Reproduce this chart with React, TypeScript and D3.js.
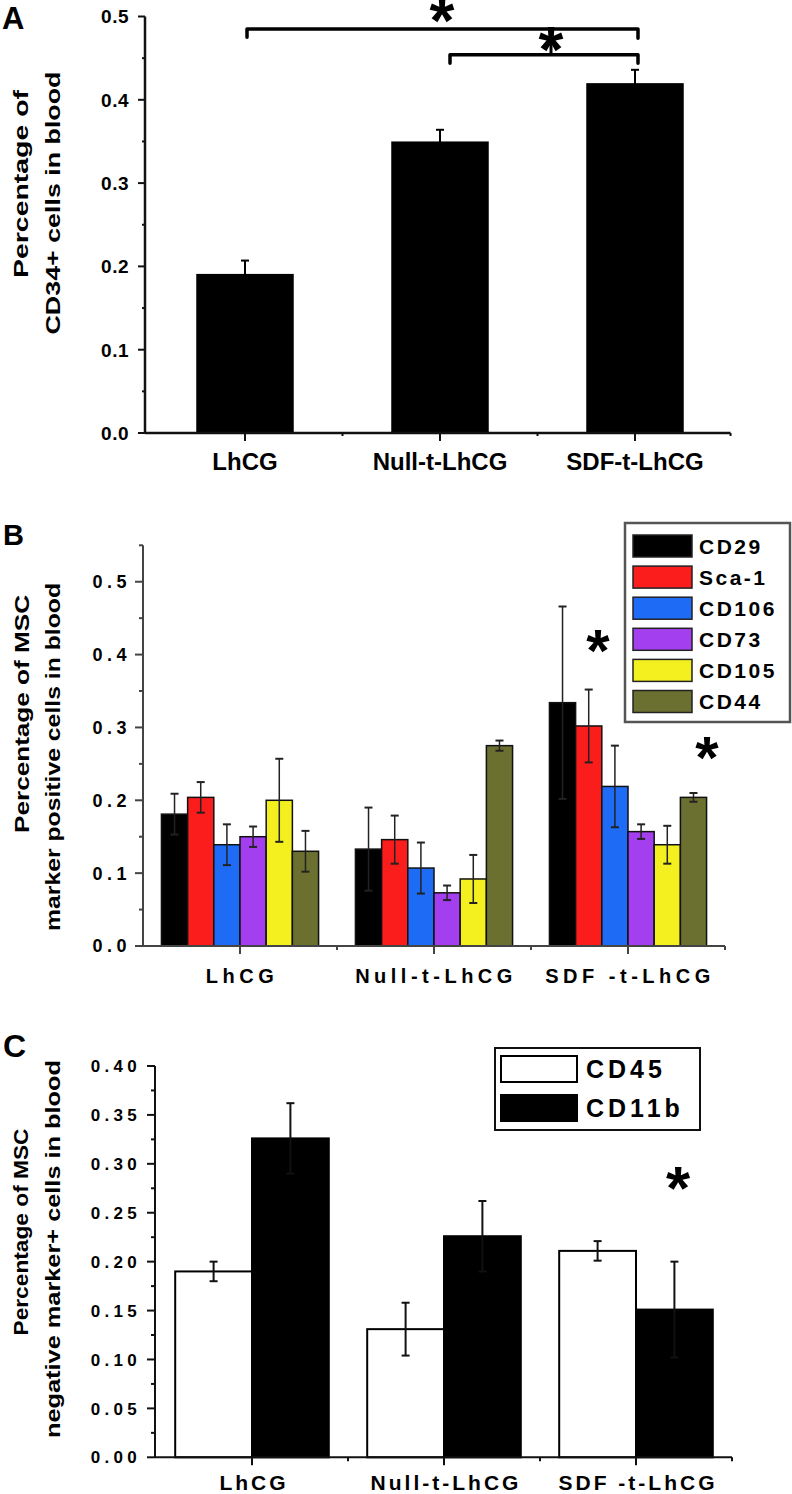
import React from "react";
import * as d3 from "d3";

// ---------- Data ----------
const categoriesA = ["LhCG", "Null-t-LhCG", "SDF-t-LhCG"];
const cd34Mean = [0.191, 0.35, 0.42];
const cd34Err = [0.016, 0.014, 0.016];
const ticksA = [0, 0.1, 0.2, 0.3, 0.4, 0.5];

const categoriesB = ["LhCG", "Null-t-LhCG", "SDF -t-LhCG"];
const mscMarkers = ["CD29", "Sca-1", "CD106", "CD73", "CD105", "CD44"];
const markerColors = ["#000000", "#fb1c1c", "#1e6cf6", "#a43ff0", "#f4ef1e", "#6b7030"];
const cd29Mean = [0.181, 0.133, 0.334];
const cd29Err = [0.028, 0.057, 0.132];
const sca1Mean = [0.204, 0.146, 0.302];
const sca1Err = [0.021, 0.033, 0.05];
const cd106Mean = [0.139, 0.107, 0.219];
const cd106Err = [0.028, 0.035, 0.056];
const cd73Mean = [0.15, 0.073, 0.157];
const cd73Err = [0.014, 0.01, 0.01];
const cd105Mean = [0.2, 0.092, 0.139];
const cd105Err = [0.057, 0.033, 0.026];
const cd44Mean = [0.13, 0.275, 0.204];
const cd44Err = [0.028, 0.007, 0.006];
const ticksB = [0, 0.1, 0.2, 0.3, 0.4, 0.5];

const categoriesC = ["LhCG", "Null-t-LhCG", "SDF -t-LhCG"];
const negMarkers = ["CD45", "CD11b"];
const negColors = ["#ffffff", "#000000"];
const cd45Mean = [0.19, 0.131, 0.211];
const cd45Err = [0.01, 0.027, 0.01];
const cd11bMean = [0.326, 0.226, 0.151];
const cd11bErr = [0.036, 0.036, 0.049];
const ticksC = [0, 0.05, 0.1, 0.15, 0.2, 0.25, 0.3, 0.35, 0.4];

const FONT = "'Liberation Sans', Arial, sans-serif";

function RotLabel({ x, cy, len, text, size = 20 }) {
  return (
    <text
      transform={`translate(${x},${cy}) rotate(-90)`}
      textAnchor="middle"
      dominantBaseline="central"
      fontFamily={FONT}
      fontWeight="bold"
      fontSize={size}
      textLength={len}
      lengthAdjust="spacingAndGlyphs"
    >
      {text}
    </text>
  );
}

function Star({ x, cy, size = 64 }) {
  return (
    <text x={x} y={cy + size * 0.43} textAnchor="middle" fontFamily={FONT} fontWeight="bold" fontSize={size}>
      *
    </text>
  );
}

function PanelA() {
  const y = d3.scaleLinear().domain([0, 0.5]).range([433, 16.5]);
  const x = d3.scaleLinear().domain([1, 3]).range([245, 635]);
  const bw = x(1.5) - x(1);
  const x0 = 145;
  const x1 = x(3.49);
  const minor = d3.range(0.05, 0.5, 0.1);
  return (
    <g>
      <text x={2} y={29} fontFamily={FONT} fontWeight="bold" fontSize={31}>A</text>
      <RotLabel x={21} cy={184} len={188} text="Percentage of" />
      <RotLabel x={53} cy={203} len={263} text="CD34+ cells in blood" />
      {cd34Mean.map((v, i) => (
        <g key={i}>
          <rect x={x(i + 1) - bw / 2} y={y(v)} width={bw} height={y(0) - y(v)} fill="#000" />
          <line x1={x(i + 1)} x2={x(i + 1)} y1={y(v - cd34Err[i])} y2={y(v + cd34Err[i])} stroke="#000" strokeWidth={2} />
          <line x1={x(i + 1) - 4} x2={x(i + 1) + 4} y1={y(v + cd34Err[i])} y2={y(v + cd34Err[i])} stroke="#000" strokeWidth={2} />
        </g>
      ))}
      {/* axes */}
      <line x1={x0} x2={x0} y1={y(0.5)} y2={y(0)} stroke="#111" strokeWidth={2.5} />
      <line x1={x0} x2={x1} y1={y(0)} y2={y(0)} stroke="#111" strokeWidth={2.5} />
      {ticksA.map((t) => (
        <g key={t}>
          <line x1={x0 - 7} x2={x0} y1={y(t)} y2={y(t)} stroke="#111" strokeWidth={2} />
          <text x={129} y={y(t)} dy="0.36em" textAnchor="end" fontFamily={FONT} fontWeight="bold" fontSize={19} letterSpacing={0.5}>
            {t.toFixed(1)}
          </text>
        </g>
      ))}
      {minor.map((t) => (
        <line key={t} x1={x0 - 3} x2={x0} y1={y(t)} y2={y(t)} stroke="#111" strokeWidth={2} />
      ))}
      {categoriesA.map((c, i) => (
        <g key={c}>
          <line x1={x(i + 1)} x2={x(i + 1)} y1={y(0)} y2={y(0) + 8} stroke="#111" strokeWidth={2} />
          <text x={x(i + 1)} y={470} textAnchor="middle" fontFamily={FONT} fontWeight="bold" fontSize={24}>
            {c}
          </text>
        </g>
      ))}
      {[1.5, 2.5, 3.49].map((t) => (
        <line key={t} x1={x(t)} x2={x(t)} y1={y(0)} y2={y(0) + 3} stroke="#111" strokeWidth={2} />
      ))}
      {/* significance brackets */}
      <path
        d={`M${x(1) + 2},${y(0.475)} L${x(1) + 2},${y(0.485)} L${x(3) + 3},${y(0.485)} L${x(3) + 3},${y(0.474)}`}
        fill="none" stroke="#000" strokeWidth={3.5} strokeLinecap="round" strokeLinejoin="round"
      />
      <path
        d={`M${x(2) + 10},${y(0.444)} L${x(2) + 10},${y(0.454)} L${x(3) + 3},${y(0.454)} L${x(3) + 3},${y(0.444)}`}
        fill="none" stroke="#000" strokeWidth={3.5} strokeLinecap="round" strokeLinejoin="round"
      />
      <line x1={551} x2={551} y1={y(0.485)} y2={y(0.454)} stroke="#000" strokeWidth={3} />
      <Star x={442} cy={15} />
      <Star x={551} cy={44} />
    </g>
  );
}

function PanelB() {
  const y = d3.scaleLinear().domain([0, 0.55]).range([946, 545.3]);
  const x = d3.scaleLinear().domain([1, 3]).range([240, 628]);
  const groupW = x(1.81) - x(1);
  const sub = d3.scaleBand().domain(mscMarkers).range([-groupW / 2, groupW / 2]).padding(0);
  const means = [cd29Mean, sca1Mean, cd106Mean, cd73Mean, cd105Mean, cd44Mean];
  const errs = [cd29Err, sca1Err, cd106Err, cd73Err, cd105Err, cd44Err];
  const x0 = 143;
  const x1 = 725;
  const minor = [0.05, 0.15, 0.25, 0.35, 0.45, 0.55];
  const axisC = "#444";
  return (
    <g>
      <text x={3} y={545} fontFamily={FONT} fontWeight="bold" fontSize={29}>B</text>
      <RotLabel x={22} cy={714} len={238} text="Percentage of MSC" />
      <RotLabel x={53} cy={757} len={348} text="marker positive cells in blood" />
      {mscMarkers.map((m, si) =>
        categoriesB.map((c, ci) => {
          const v = means[si][ci];
          const e = errs[si][ci];
          const bx = x(ci + 1) + sub(m);
          const cx = bx + sub.bandwidth() / 2;
          return (
            <g key={m + c}>
              <rect x={bx} y={y(v)} width={sub.bandwidth()} height={y(0) - y(v)} fill={markerColors[si]} stroke="#111" strokeWidth={1.5} />
              <line x1={cx} x2={cx} y1={y(v - e)} y2={y(v + e)} stroke="#222" strokeWidth={1.5} />
              <line x1={cx - 4} x2={cx + 4} y1={y(v + e)} y2={y(v + e)} stroke="#222" strokeWidth={2} />
              <line x1={cx - 4} x2={cx + 4} y1={y(v - e)} y2={y(v - e)} stroke="#222" strokeWidth={2} />
            </g>
          );
        })
      )}
      <line x1={x0} x2={x0} y1={y(0.55)} y2={y(0)} stroke={axisC} strokeWidth={2} />
      <line x1={x0} x2={x1} y1={y(0)} y2={y(0)} stroke={axisC} strokeWidth={2} />
      {ticksB.map((t) => (
        <g key={t}>
          <line x1={x0 - 8} x2={x0} y1={y(t)} y2={y(t)} stroke={axisC} strokeWidth={2} />
          <text x={131} y={y(t)} dy="0.36em" textAnchor="end" fontFamily={FONT} fontWeight="bold" fontSize={18} letterSpacing={4.5}>
            {t.toFixed(1)}
          </text>
        </g>
      ))}
      {minor.map((t) => (
        <line key={t} x1={x0 - 4} x2={x0} y1={y(t)} y2={y(t)} stroke={axisC} strokeWidth={2} />
      ))}
      {categoriesB.map((c, i) => (
        <g key={c}>
          <line x1={x(i + 1)} x2={x(i + 1)} y1={y(0)} y2={y(0) + 8} stroke={axisC} strokeWidth={2} />
          <text x={x(i + 1) + 2} y={983} textAnchor="middle" fontFamily={FONT} fontWeight="bold" fontSize={20} letterSpacing={4.5}>
            {c}
          </text>
        </g>
      ))}
      {[1.5, 2.5].map((t) => (
        <line key={t} x1={x(t)} x2={x(t)} y1={y(0)} y2={y(0) + 4} stroke={axisC} strokeWidth={2} />
      ))}
      <line x1={x1} x2={x1} y1={y(0)} y2={y(0) + 4} stroke={axisC} strokeWidth={2} />
      <Star x={598} cy={645} size={60} />
      <Star x={707} cy={752} size={60} />
      {/* legend */}
      <rect x={625} y={523} width={165} height={199} fill="#fff" stroke="#555" strokeWidth={2.5} />
      {mscMarkers.map((m, i) => (
        <g key={m}>
          <rect x={633} y={535 + i * 31.1} width={59} height={22} fill={markerColors[i]} stroke="#222" strokeWidth={1.5} />
          <text x={699} y={546 + i * 31.1} dy="0.36em" fontFamily={FONT} fontWeight="bold" fontSize={21} letterSpacing={2.5}>
            {m}
          </text>
        </g>
      ))}
    </g>
  );
}

function PanelC() {
  const y = d3.scaleLinear().domain([0, 0.4]).range([1457.3, 1066]);
  const x = d3.scaleLinear().domain([1, 3]).range([252, 636]);
  const groupW = x(1.8) - x(1);
  const sub = d3.scaleBand().domain(negMarkers).range([-groupW / 2, groupW / 2]).padding(0);
  const means = [cd45Mean, cd11bMean];
  const errs = [cd45Err, cd11bErr];
  const x0 = 155;
  const x1 = 732;
  const minor = d3.range(0.025, 0.4, 0.05);
  return (
    <g>
      <text x={3} y={1057} fontFamily={FONT} fontWeight="bold" fontSize={32}>C</text>
      <RotLabel x={21} cy={1232} len={207} text="Percentage of MSC" />
      <RotLabel x={53} cy={1249} len={378} text="negative marker+ cells in blood" />
      {negMarkers.map((m, si) =>
        categoriesC.map((c, ci) => {
          const v = means[si][ci];
          const e = errs[si][ci];
          const bx = x(ci + 1) + sub(m);
          const cx = bx + sub.bandwidth() / 2;
          return (
            <g key={m + c}>
              <rect x={bx} y={y(v)} width={sub.bandwidth()} height={y(0) - y(v)} fill={negColors[si]} stroke="#000" strokeWidth={2} />
              <line x1={cx} x2={cx} y1={y(v - e)} y2={y(v + e)} stroke="#111" strokeWidth={2} />
              <line x1={cx - 4} x2={cx + 4} y1={y(v + e)} y2={y(v + e)} stroke="#111" strokeWidth={2} />
              <line x1={cx - 4} x2={cx + 4} y1={y(v - e)} y2={y(v - e)} stroke="#111" strokeWidth={2} />
            </g>
          );
        })
      )}
      <line x1={x0} x2={x0} y1={y(0.4)} y2={y(0)} stroke="#111" strokeWidth={2} />
      <line x1={x0} x2={x1} y1={y(0)} y2={y(0)} stroke="#111" strokeWidth={2} />
      {ticksC.map((t) => (
        <g key={t}>
          <line x1={x0 - 8} x2={x0} y1={y(t)} y2={y(t)} stroke="#111" strokeWidth={2} />
          <text x={141} y={y(t)} dy="0.36em" textAnchor="end" fontFamily={FONT} fontWeight="bold" fontSize={17} letterSpacing={4.3}>
            {t.toFixed(2)}
          </text>
        </g>
      ))}
      {minor.map((t) => (
        <line key={t} x1={x0 - 4} x2={x0} y1={y(t)} y2={y(t)} stroke="#111" strokeWidth={2} />
      ))}
      {categoriesC.map((c, i) => (
        <g key={c}>
          <line x1={x(i + 1)} x2={x(i + 1)} y1={y(0)} y2={y(0) + 8} stroke="#111" strokeWidth={2} />
          <text x={x(i + 1) + 2} y={1490} textAnchor="middle" fontFamily={FONT} fontWeight="bold" fontSize={21} letterSpacing={3}>
            {c}
          </text>
        </g>
      ))}
      {[1.5, 2.5].map((t) => (
        <line key={t} x1={x(t)} x2={x(t)} y1={y(0)} y2={y(0) + 4} stroke="#111" strokeWidth={2} />
      ))}
      <line x1={x1} x2={x1} y1={y(0)} y2={y(0) + 4} stroke="#111" strokeWidth={2} />
      <Star x={678} cy={1182} size={62} />
      {/* legend */}
      <rect x={495} y={1048} width={205} height={82} fill="#fff" stroke="#111" strokeWidth={2} />
      {negMarkers.map((m, i) => (
        <g key={m}>
          <rect x={501} y={1056 + i * 39} width={76} height={26} fill={negColors[i]} stroke="#000" strokeWidth={2} />
          <text x={586} y={1069 + i * 39} dy="0.36em" fontFamily={FONT} fontWeight="bold" fontSize={25} letterSpacing={4}>
            {m}
          </text>
        </g>
      ))}
    </g>
  );
}

export default function App() {
  return (
    <svg
      width={792}
      height={1494}
      viewBox="0 0 792 1494"
      style={{ position: "absolute", left: 0, top: 0, background: "#fff", display: "block" }}
    >
      <rect width={792} height={1494} fill="#fff" />
      <PanelA />
      <PanelB />
      <PanelC />
    </svg>
  );
}
